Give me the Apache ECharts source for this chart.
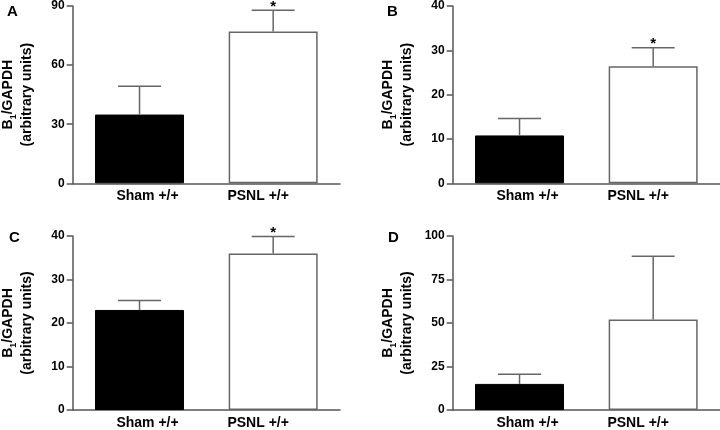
<!DOCTYPE html>
<html>
<head>
<meta charset="utf-8">
<script src="https://cdn.jsdelivr.net/npm/echarts@6/dist/echarts.min.js"></script>
<style>html,body{margin:0;padding:0;background:#fff}#c{width:720px;height:430px}</style>
</head>
<body>
<div id="c"></div>
<script>
const categories = ['Sham +/+', 'PSNL +/+'];
const panelLabels = ['A', 'B', 'C', 'D'];
const meansA = [34.9, 77.1];
const semA = [14.4, 10.8];
const meansB = [10.8, 26.4];
const semB = [3.8, 4.2];
const meansC = [23.0, 36.0];
const semC = [2.2, 3.9];
const meansD = [15.0, 52.0];
const semD = [5.5, 36.4];
const sigA = [false, true];
const sigB = [false, true];
const sigC = [false, true];
const sigD = [false, false];
const yMax = [90, 40, 40, 100];
const yInterval = [30, 10, 10, 25];

const means = [meansA, meansB, meansC, meansD];
const sems = [semA, semB, semC, semD];
const sigs = [sigA, sigB, sigC, sigD];

const grids = [
  {left: 72.7, right: 380, top: 6, bottom: 246.7},
  {left: 452.7, right: 0, top: 6, bottom: 246.7},
  {left: 72.7, right: 380, top: 236, bottom: 16.3},
  {left: 452.7, right: 0, top: 236, bottom: 16.3}
];
const letterPos = [[7, 4], [387, 4], [9, 230], [388, 230]];

const axisColor = '#555';
const font = 'Liberation Sans, Arial, sans-serif';

const xAxes = [], yAxes = [], series = [], graphics = [];
for (let i = 0; i < 4; i++) {
  xAxes.push({
    type: 'category', gridIndex: i, data: categories,
    axisLine: {lineStyle: {color: axisColor, width: 1.5}},
    axisTick: {show: false},
    axisLabel: {
      margin: 6,
      formatter: function (v, idx) { return idx === 0 ? '{a|' + v + '}' : '{b|' + v + '}'; },
      rich: {
        a: {fontFamily: font, fontWeight: 'bold', fontSize: 14, color: '#000', padding: [0, 0, 0, 16]},
        b: {fontFamily: font, fontWeight: 'bold', fontSize: 14, color: '#000', padding: [0, 30, 0, 0]}
      }
    }
  });
  yAxes.push({
    type: 'value', gridIndex: i, min: 0, max: yMax[i], interval: yInterval[i],
    splitLine: {show: false},
    axisLine: {show: true, lineStyle: {color: axisColor, width: 1.5}},
    axisTick: {show: true, length: 6, lineStyle: {color: axisColor, width: 1.5}},
    axisLabel: {margin: 8, fontFamily: font, fontWeight: 'bold', fontSize: 12, color: '#000'},
    name: '{m|B}{s|1}{m|/GAPDH}\n{m|(arbitrary units)}',
    nameLocation: 'middle', nameRotate: 90, nameGap: 36,
    nameTextStyle: {
      rich: {
        m: {fontFamily: font, fontWeight: 'bold', fontSize: 14, color: '#000', lineHeight: 19},
        s: {fontFamily: font, fontWeight: 'bold', fontSize: 9, color: '#000', lineHeight: 10, verticalAlign: 'bottom'}
      }
    }
  });
  series.push({
    type: 'bar', xAxisIndex: i, yAxisIndex: i, barWidth: 89,
    data: means[i].map((v, k) => ({
      value: v,
      itemStyle: k === 0 ? {color: '#000', borderColor: '#000', borderWidth: 1}
                         : {color: '#fff', borderColor: '#666', borderWidth: 1.5}
    })),
    silent: true, z: 2
  });
  const errData = means[i].map((v, k) => [k, v, v + sems[i][k], sigs[i][k] ? 1 : 0]);
  series.push({
    type: 'custom', xAxisIndex: i, yAxisIndex: i, data: errData, z: 3, silent: true,
    renderItem: function (params, api) {
      const x = api.value(0);
      const base = api.coord([x, api.value(1)]);
      const top = api.coord([x, api.value(2)]);
      const half = 21.5;
      const children = [
        {type: 'line', shape: {x1: base[0], y1: base[1], x2: top[0], y2: top[1]}, style: {stroke: '#666', lineWidth: 1.5}},
        {type: 'line', shape: {x1: top[0] - half, y1: top[1], x2: top[0] + half, y2: top[1]}, style: {stroke: '#666', lineWidth: 1.5}}
      ];
      if (api.value(3) === 1) {
        children.push({type: 'text', style: {text: '*', x: top[0], y: top[1] + 4, align: 'center', verticalAlign: 'bottom', font: 'bold 15px ' + font, fill: '#000'}});
      }
      return {type: 'group', children: children};
    }
  });
  graphics.push({
    type: 'text', left: letterPos[i][0], top: letterPos[i][1],
    style: {text: panelLabels[i], font: 'bold 15px ' + font, fill: '#000'}
  });
}

const chart = echarts.init(document.getElementById('c'));
chart.setOption({
  animation: false,
  backgroundColor: '#fff',
  grid: grids,
  xAxis: xAxes,
  yAxis: yAxes,
  series: series,
  graphic: graphics
});
</script>
</body>
</html>
